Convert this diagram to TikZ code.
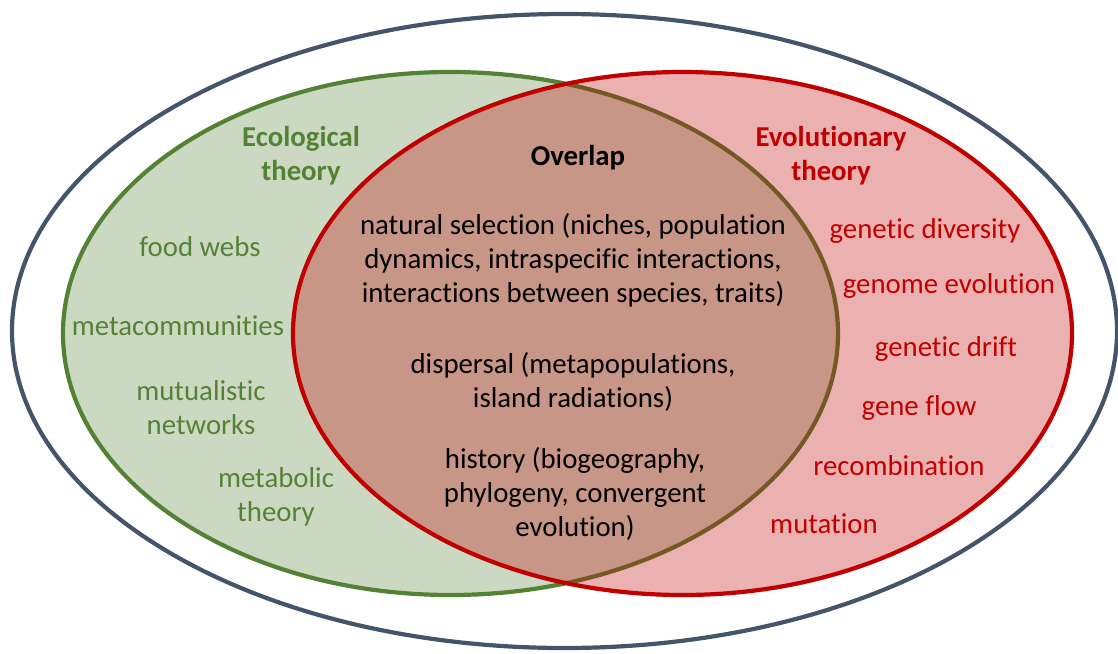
\documentclass[tikz,border=0pt]{standalone}
\usepackage{fontspec}
\setmainfont[Ligatures={NoCommon}]{Carlito}
\usetikzlibrary{shapes.geometric}
\definecolor{slate}{HTML}{44546A}
\definecolor{ecogreen}{HTML}{548235}
\definecolor{evored}{HTML}{C00000}
\begin{document}
\begin{tikzpicture}[x=1pt,y=-1pt,
  ring/.style={ellipse, inner sep=0pt, line width=4.2pt},
  txt/.style={align=center, inner sep=0pt, font=\fontsize{28.8}{34}\selectfont},
  ecotxt/.style={txt, text=ecogreen},
  evotxt/.style={txt, text=evored},
  headtxt/.style={font=\fontsize{28.8}{34}\selectfont\bfseries}]
\useasboundingbox (0,0) rectangle (1118,653);
% outer frame
\node[ring, draw=slate, minimum width=1105, minimum height=634] (outer) at (564.5,331) {};
% ecological theory set
\node[ring, draw=ecogreen, fill=ecogreen, fill opacity=0.3, draw opacity=1,
      minimum width=775, minimum height=523] (eco) at (450.5,333.5) {};
% evolutionary theory set, drawn over the first
\node[ring, draw=evored, fill=evored, fill opacity=0.31, draw opacity=1,
      minimum width=779, minimum height=523] (evo) at (682.5,333.5) {};

% headings
\node[ecotxt, headtxt] (ecohead) at (301,156) {Ecological\\theory};
\node[evotxt, headtxt] (evohead) at (831,156) {Evolutionary\\theory};
\node[txt, headtxt] (ovhead) at (578,158) {Overlap};

% overlap contents
\node[txt] (selection) at (573,260) {natural selection (niches, population\\dynamics, intraspecific interactions,\\interactions between species, traits)};
\node[txt] (dispersal) at (573,382) {dispersal (metapopulations,\\island radiations)};
\node[txt] (history) at (575,494) {history (biogeography,\\phylogeny, convergent\\evolution)};

% ecology-only topics
\node[ecotxt] (foodwebs) at (200,247) {food webs};
\node[ecotxt] (metacomm) at (178,326) {metacommunities};
\node[ecotxt] (mutual) at (201,408) {mutualistic\\networks};
\node[ecotxt] (metabolic) at (276,497) {metabolic\\theory};

% evolution-only topics
\node[evotxt] (gendiv) at (925,231) {genetic diversity};
\node[evotxt] (genome) at (949,286) {genome evolution};
\node[evotxt] (drift) at (946,349) {genetic drift};
\node[evotxt] (flow) at (919,408) {gene flow};
\node[evotxt] (recomb) at (899,466) {recombination};
\node[evotxt] (mutation) at (824,524) {mutation};
\end{tikzpicture}
\end{document}
